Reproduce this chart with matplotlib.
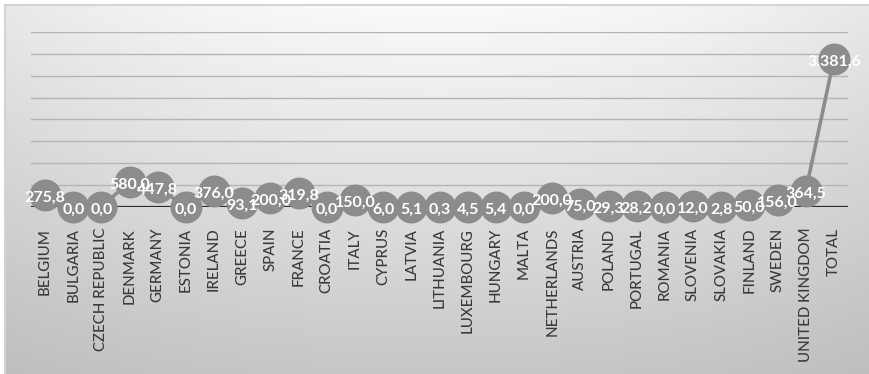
import numpy as np
import matplotlib
matplotlib.use("Agg")
import matplotlib.pyplot as plt

countries = [
    "BELGIUM", "BULGARIA", "CZECH REPUBLIC", "DENMARK", "GERMANY", "ESTONIA",
    "IRELAND", "GREECE", "SPAIN", "FRANCE", "CROATIA", "ITALY", "CYPRUS",
    "LATVIA", "LITHUANIA", "LUXEMBOURG", "HUNGARY", "MALTA", "NETHERLANDS",
    "AUSTRIA", "POLAND", "PORTUGAL", "ROMANIA", "SLOVENIA", "SLOVAKIA",
    "FINLAND", "SWEDEN", "UNITED KINGDOM", "TOTAL",
]
values = [
    275.8, 0.0, 0.0, 580.0, 447.8, 0.0,
    376.0, 93.1, 200.0, 319.8, 0.0, 150.0, 6.0,
    5.1, 0.3, 4.5, 5.4, 0.0, 200.0,
    75.0, 29.3, 28.2, 0.0, 12.0, 2.8,
    50.0, 156.0, 364.5, 3381.6,
]
y_max = 4000
y_step = 500


def fmt(v):
    # European style: dot for thousands, comma for decimals
    s = f"{v:,.1f}"
    return s.replace(",", "X").replace(".", ",").replace("X", ".")


W, H = 870, 374
fig = plt.figure(figsize=(W / 100, H / 100), dpi=100)
fig.patch.set_facecolor("white")

# soft gray gradient behind the chart area
bg = fig.add_axes([0, 0, 1, 1], zorder=0)
bg.set_axis_off()
yy, xx = np.mgrid[0:H, 0:W]
dx = (xx - W / 2) / (W / 2)
dy = (yy - 5) / (H - 5)
v = 0.98 - 0.2 * dy - 0.07 * dx ** 2 * (1 - 0.5 * dy)
img = np.dstack([v, v, v])
img[:5, :, :] = 1.0
img[:, :5, :] = 1.0
bg.imshow(np.clip(img, 0, 1), extent=[0, W, H, 0], aspect="auto",
          interpolation="bilinear")
bg.plot([5, 5], [H, 5], color="#d4d4d4", lw=1.5)
bg.plot([5, W], [5, 5], color="#d4d4d4", lw=1.5)
bg.set_xlim(0, W)
bg.set_ylim(H, 0)

left, right, top, bottom = 31, 848, 32, 207
ax = fig.add_axes([left / W, 1 - bottom / H, (right - left) / W, (bottom - top) / H],
                  zorder=1)
ax.patch.set_alpha(0)
for s in ax.spines.values():
    s.set_visible(False)

x = np.arange(len(countries))
ax.set_xlim(-0.5, len(countries) - 0.5)
ax.set_ylim(0, y_max)

for gy in np.arange(y_step, y_max + 1, y_step):
    ax.axhline(gy, color="#b5b5b5", lw=1.0, zorder=1)
ax.axhline(0, color="#2b2b2b", lw=1.6, zorder=2)

ax.plot(x, values, color="#8c8c8c", lw=2.6, marker="o", ms=22,
        mfc="#8c8c8c", mec="#8c8c8c", zorder=3, clip_on=False)

for xi, val in zip(x, values):
    ax.annotate(fmt(val), (xi, val), xytext=(0, -2), textcoords="offset points",
                ha="center", va="center", color="white", fontsize=11.5,
                family="Lato", fontweight="bold", zorder=5,
                annotation_clip=False)

ax.set_yticks([])
ax.set_xticks(x)
ax.set_xticklabels(countries, rotation=90, fontsize=10.8, family="Lato",
                   fontweight="medium", color="#3a3a3a")
ax.tick_params(axis="x", length=0, pad=15)

fig.savefig("out.png", dpi=100)
